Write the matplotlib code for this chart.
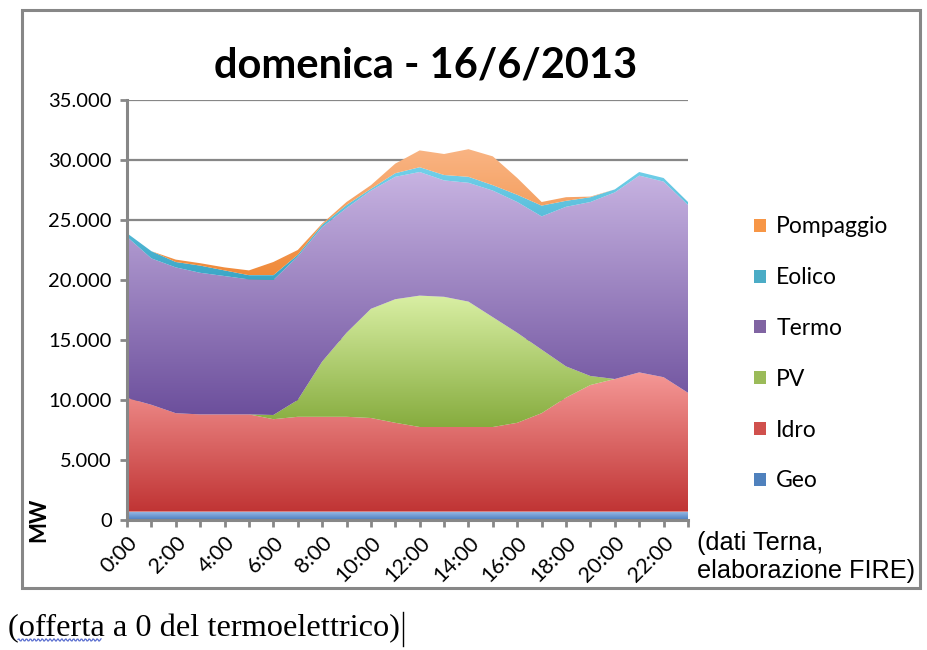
import numpy as np
import matplotlib
matplotlib.use("Agg")
import matplotlib.pyplot as plt
from matplotlib.patches import Polygon, Rectangle
from matplotlib.lines import Line2D
from matplotlib.colors import LinearSegmentedColormap
from matplotlib.ticker import FuncFormatter, MultipleLocator, FixedLocator

# ---------------- data (MW, hourly) ----------------
hours = list(range(24))
hour_labels = ["0:00", "", "2:00", "", "4:00", "", "6:00", "", "8:00", "", "10:00", "",
               "12:00", "", "14:00", "", "16:00", "", "18:00", "", "20:00", "", "22:00", ""]

geo = [700, 700, 700, 700, 700, 700, 700, 700, 700, 700, 700, 700,
       700, 700, 700, 700, 700, 700, 700, 700, 700, 700, 700, 700]
idro = [9470, 8900, 8200, 8100, 8100, 8100, 7700, 7900, 7900, 7900, 7800, 7400,
        7050, 7050, 7050, 7050, 7400, 8200, 9500, 10550, 11050, 11600, 11200, 9900]
pv = [0, 0, 0, 0, 0, 0, 350, 1400, 4600, 7000, 9100, 10300,
      10950, 10850, 10450, 9150, 7500, 5300, 2600, 750, 0, 0, 0, 0]
termo = [13430, 12200, 12150, 11800, 11530, 11250, 11250, 11950, 11200, 10400, 9850, 10200,
         10300, 9700, 9900, 10550, 10900, 11100, 13300, 14500, 15550, 16400, 16300, 15650]
eolico = [300, 600, 450, 600, 470, 350, 400, 150, 200, 250, 150, 300,
          400, 450, 500, 450, 600, 900, 500, 400, 250, 300, 300, 250]
pompaggio = [0, 0, 200, 200, 250, 400, 1100, 400, 100, 250, 300, 800,
             1400, 1750, 2300, 2400, 1400, 300, 300, 50, 0, 0, 0, 0]

series_names = ["Geo", "Idro", "PV", "Termo", "Eolico", "Pompaggio"]
series_values = [geo, idro, pv, termo, eolico, pompaggio]
# (bottom colour, top colour) of each gradient fill
series_colors = [
    ("#4a7cc0", "#9cbde6"),
    ("#c03434", "#f59896"),
    ("#86ac3e", "#d9efa4"),
    ("#6c4f9c", "#c8b4e2"),
    ("#3aa6c6", "#72d0ea"),
    ("#f08a3a", "#f9b483"),
]
legend_colors = ["#4f81bd", "#d0504d", "#9bbb59", "#8064a2", "#4bacc6", "#f79646"]

title = "domenica - 16/6/2013"
ylabel = "MW"
note_right = "(dati Terna,\nelaborazione FIRE)"
note_bottom = "(offerta a 0 del termoelettrico)"

# ---------------- figure ----------------
W, H = 928, 650
fig = plt.figure(figsize=(W / 100, H / 100), dpi=100)
fig.patch.set_facecolor("white")

GREY = "#878787"
FONT = "Lato"

# outer chart frame
fig.add_artist(Rectangle((22 / W, 1 - 588 / H), (920 - 22) / W, (588 - 10) / H,
                         transform=fig.transFigure, fill=False, edgecolor=GREY, lw=2.2))

ax = fig.add_axes([127 / W, 1 - 520 / H, (688 - 127) / W, (520 - 100) / H])
ax.set_facecolor("none")

x = np.array(hours, dtype=float)
bottom = np.zeros(len(hours))
for name, vals, (c0, c1) in zip(series_names, series_values, series_colors):
    top = bottom + np.array(vals, dtype=float)
    verts = np.vstack([np.column_stack([x, top]), np.column_stack([x[::-1], bottom[::-1]])])
    poly = Polygon(verts, closed=True, facecolor="none", edgecolor="none", transform=ax.transData)
    ax.add_patch(poly)
    ymin, ymax = bottom.min(), top.max()
    if ymax - ymin <= 0:
        ymax = ymin + 1
    cmap = LinearSegmentedColormap.from_list(name, [c0, c1])
    grad = np.linspace(0, 1, 256).reshape(-1, 1)
    im = ax.imshow(grad, cmap=cmap, origin="lower", aspect="auto",
                   extent=[x.min(), x.max(), ymin, ymax], zorder=2, interpolation="bilinear")
    im.set_clip_path(poly)
    bottom = top

ax.set_xlim(0, 23)
ax.set_ylim(0, 35000)

# grid and axes
ax.yaxis.set_major_locator(MultipleLocator(5000))
ax.yaxis.grid(True, color=GREY, lw=1.6, zorder=1)
ax.set_axisbelow(True)
for s in ["top", "right"]:
    ax.spines[s].set_visible(False)
for s in ["left", "bottom"]:
    ax.spines[s].set_color(GREY)
    ax.spines[s].set_linewidth(2.2)
    ax.spines[s].set_zorder(5)

ax.yaxis.set_major_formatter(FuncFormatter(lambda v, p: f"{int(v):,}".replace(",", ".")))
ax.tick_params(axis="y", length=5, width=2, color=GREY, pad=6, labelsize=14.5)
ax.xaxis.set_major_locator(FixedLocator(hours))
ax.set_xticklabels(hour_labels)
ax.tick_params(axis="x", length=5, width=2, color=GREY, pad=4, labelsize=15.5)
for lab in ax.get_xticklabels():
    lab.set_rotation(45)
    lab.set_ha("right")
    lab.set_va("top")
    lab.set_rotation_mode("anchor")
for lab in ax.get_xticklabels() + ax.get_yticklabels():
    lab.set_fontfamily(FONT)

# title & labels
fig.text(426 / W, 1 - 65 / H, title, ha="center", va="center", fontsize=30,
         fontweight="bold", fontfamily=FONT)
fig.text(39 / W, 1 - 520 / H, ylabel, ha="center", va="center", rotation=90,
         fontsize=16, fontweight="bold", fontfamily=FONT)
fig.text(697 / W, 1 - 557 / H, note_right, ha="left", va="center", fontsize=18.2,
         fontfamily="Liberation Sans", linespacing=1.2)

# legend
handles = [Rectangle((0, 0), 1, 1, facecolor=c, edgecolor="none") for c in legend_colors]
leg = fig.legend(handles[::-1], series_names[::-1], loc="upper left",
                 bbox_to_anchor=(743 / W, 1 - 205 / H), frameon=False,
                 prop={"family": FONT, "size": 16.5}, labelspacing=1.3,
                 handlelength=0.5, handleheight=0.5, handletextpad=0.45, borderpad=0)

# caption below the chart
fig.text(8 / W, 1 - 629 / H, note_bottom, ha="left", va="center", fontsize=23.3,
         fontfamily="Liberation Serif")
# spell-check wavy underline under "offerta" and text cursor
wx = np.linspace(18, 101, 84)
wy = 640 + 1.2 * np.sin(wx * 1.6)
fig.add_artist(Line2D(wx / W, 1 - wy / H, transform=fig.transFigure, color="#5b6fd0", lw=0.9))
fig.add_artist(Line2D([403 / W, 403 / W], [1 - 612 / H, 1 - 646 / H],
                      transform=fig.transFigure, color="black", lw=1))

fig.savefig("out.png", dpi=100, facecolor="white")
